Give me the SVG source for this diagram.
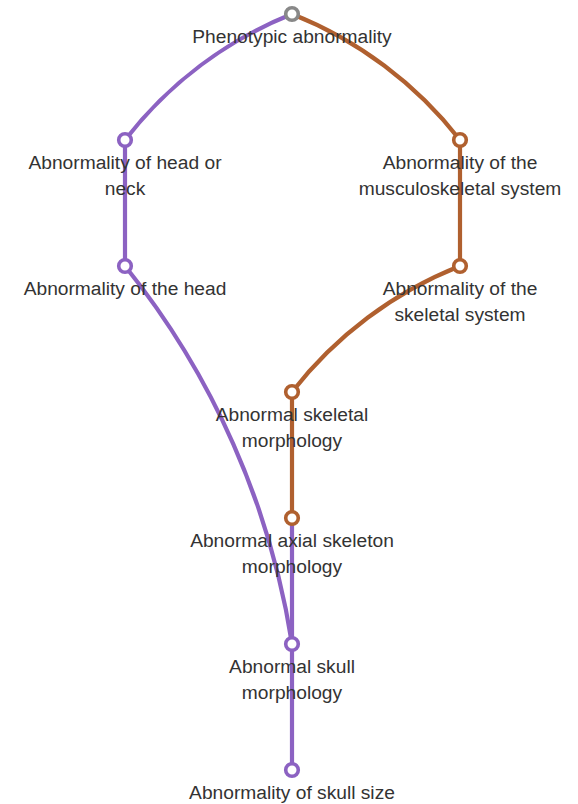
<svg xmlns="http://www.w3.org/2000/svg" width="578" height="804" viewBox="0 0 578 804">
<style>
.e{fill:none;stroke-width:4.2;stroke-linecap:round}
.p{stroke:#8c62c2}
.b{stroke:#b0602f}
circle{fill:#fff;stroke-width:3.6}
text{font-family:"Liberation Sans",Arial,Helvetica,sans-serif;font-size:19.2px;fill:#333;text-anchor:middle}
</style>
<rect width="578" height="804" fill="#fff"/>
<g id="connectors">
<path class="e p" d="M292,14 A400,400 0 0 0 125,140"/>
<path class="e b" d="M292,14 A400,400 0 0 1 460,140"/>
<path class="e p" d="M125,140 L125,266"/>
<path class="e b" d="M460,140 L460,266"/>
<path class="e p" d="M125,266 A800,800 0 0 1 292,644"/>
<path class="e b" d="M460,266 A400,400 0 0 0 292,392"/>
<path class="e b" d="M292,392 L292,518"/>
<path class="e p" d="M292,518 L292,644"/>
<path class="e p" d="M292,644 L292,770"/>
</g>
<g id="n1"><circle cx="292" cy="14" r="6.3" stroke="#888"/><text x="292" y="42.5">Phenotypic abnormality</text></g>
<g id="n2"><circle cx="125" cy="140" r="6.3" stroke="#8c62c2"/><text x="125" y="168.5">Abnormality of head or</text><text x="125" y="194.5">neck</text></g>
<g id="n3"><circle cx="460" cy="140" r="6.3" stroke="#b0602f"/><text x="460" y="168.5">Abnormality of the</text><text x="460" y="194.5">musculoskeletal system</text></g>
<g id="n4"><circle cx="125" cy="266" r="6.3" stroke="#8c62c2"/><text x="125" y="294.5">Abnormality of the head</text></g>
<g id="n5"><circle cx="460" cy="266" r="6.3" stroke="#b0602f"/><text x="460" y="294.5">Abnormality of the</text><text x="460" y="320.5">skeletal system</text></g>
<g id="n6"><circle cx="292" cy="392" r="6.3" stroke="#b0602f"/><text x="292" y="420.5">Abnormal skeletal</text><text x="292" y="446.5">morphology</text></g>
<g id="n7"><circle cx="292" cy="518" r="6.3" stroke="#b0602f"/><text x="292" y="546.5">Abnormal axial skeleton</text><text x="292" y="572.5">morphology</text></g>
<g id="n8"><circle cx="292" cy="644" r="6.3" stroke="#8c62c2"/><text x="292" y="672.5">Abnormal skull</text><text x="292" y="698.5">morphology</text></g>
<g id="n9"><circle cx="292" cy="770" r="6.3" stroke="#8c62c2"/><text x="292" y="798.5">Abnormality of skull size</text></g>
</svg>
